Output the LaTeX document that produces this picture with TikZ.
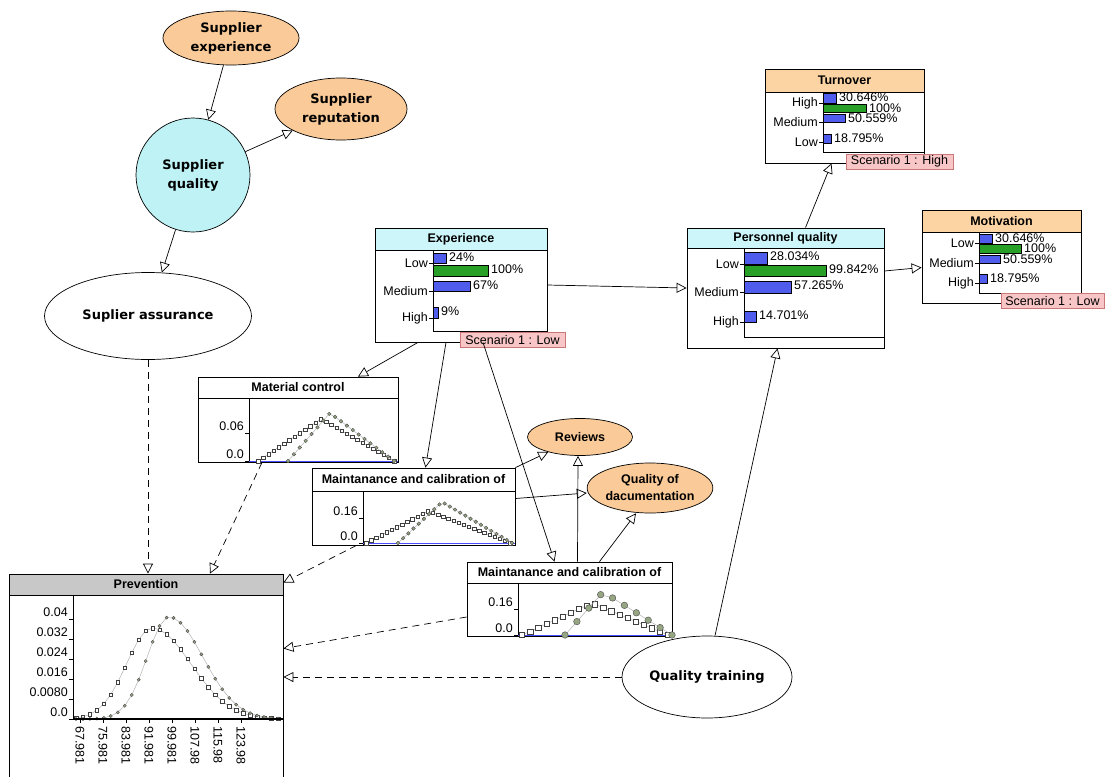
\documentclass[tikz,border=0pt]{standalone}
\usepackage{fontspec}
\setmainfont{Liberation Sans}
\newfontfamily\ovalfont{DejaVu Sans}
\usetikzlibrary{arrows.meta, shapes.geometric, plotmarks}

\definecolor{ovalorange}{RGB}{250,202,152}
\definecolor{titleorange}{RGB}{252,212,164}
\definecolor{qualcyan}{RGB}{190,242,245}
\definecolor{titlecyan}{RGB}{205,246,250}
\definecolor{titlegray}{RGB}{200,200,200}
\definecolor{barblue}{RGB}{80,92,235}
\definecolor{bargreen}{RGB}{40,160,40}
\definecolor{scenfill}{RGB}{248,198,198}
\definecolor{scenedge}{RGB}{205,120,120}
\definecolor{markgreen}{RGB}{150,165,130}

\tikzset{
  oval/.style={ellipse, draw, inner sep=0pt, align=center, line width=0.7pt,
    font=\ovalfont\bfseries\fontsize{13}{19}\selectfont},
  smalloval/.style={oval, fill=ovalorange, font=\bfseries\fontsize{12.5}{17}\selectfont},
  bnbox/.style={draw, fill=white, inner sep=0pt, line width=0.8pt},
  boxtitle/.style={font=\bfseries\fontsize{12.5}{15}\selectfont, inner sep=0pt},
  stxt/.style={font=\fontsize{12.5}{15}\selectfont, inner sep=1pt},
  scen/.style={draw=scenedge, fill=scenfill, font=\fontsize{12.5}{15}\selectfont,
    inner sep=0pt, minimum height=15pt},
  link/.style={-{Triangle[open,length=10pt,width=10pt]}, line width=0.7pt},
  dlink/.style={link, dash pattern=on 7pt off 5pt},
  sqcurve/.style={draw=gray!70, mark=square*, mark size=1.7pt,
    mark options={solid, draw=black!75, fill=white}},
  cicurve/.style={draw=gray!70, mark=*, mark size=1.8pt,
    mark options={solid, draw=black!70, fill=markgreen}}
}

% name, axis x, y, text
\newcommand{\statelab}[4]{%
  \draw (#2-4,#3) -- (#2,#3);
  \node[stxt, anchor=east] (#1) at (#2-4,#3) {#4};}
% name, x0, top, bottom, length, colour, text
\newcommand{\statebar}[7]{%
  \draw[fill=#6] (#2,#3) rectangle ({#2+#5},#4);
  \node[stxt, anchor=west] (#1) at ({#2+#5+2},{#3+4}) {#7};}
% name, axis x, y, text
\newcommand{\charttick}[4]{%
  \draw (#2-4,#3) -- (#2,#3);
  \node[stxt, anchor=east] (#1) at (#2-4,#3-7) {#4};}
% style, a, c, b, base, height, samples
\newcommand{\tricurve}[7]{%
  \draw[#1] plot[domain=#2:#4, samples=#7]
    (\x, {#5-#6*max(0,1-abs(\x-#3)/((\x<#3)?(#3-#2):(#4-#3)))});}
% style, c, left width, right width, base, height, samples
\newcommand{\skewcurve}[7]{%
  \draw[#1] plot[domain=76:278, samples=#7]
    (\x, {#5-#6*exp(-((\x-#2)/((\x<#2)?#3:#4))^2)});}

\begin{document}
\begin{tikzpicture}[x=1pt, y=-1pt]
  \fill[white] (0,0) rectangle (1105,776);
  \useasboundingbox (0,0) rectangle (1105,776);

  % Supplier nodes
  \node[oval, fill=ovalorange, minimum width=136pt, minimum height=54pt] (supexp) at (231,38) {Supplier\\experience};
  \node[oval, fill=ovalorange, minimum width=132pt, minimum height=62pt] (suprep) at (341,109) {Supplier\\reputation};
  \node[oval, circle, fill=qualcyan, minimum size=114pt] (supq) at (193,175) {Supplier\\quality};
  \node[oval, minimum width=207pt, minimum height=87pt] (supass) at (148,316) {Suplier assurance};

  % Other ovals
  \node[smalloval, minimum width=105pt, minimum height=37pt] (reviews) at (580,437) {Reviews};
  \node[smalloval, minimum width=114pt, minimum height=50pt] (qdoc) at (650,488) {Quality of\\dacumentation};
  \node[oval, minimum width=170pt, minimum height=82pt] (qtrain) at (707,677) {Quality training};

  % Experience
  \node[bnbox, minimum width=172pt, minimum height=114pt] (exp) at (461,285) {};
  \filldraw[fill=titlecyan] (375,228) rectangle (547,250);
  \node[boxtitle] (exp-title) at (461,239) {Experience};
  \draw (433,250) -- (433,331) -- (547,331);
  \statelab{exp-low}{433}{263}{Low}
  \statelab{exp-med}{433}{291}{Medium}
  \statelab{exp-high}{433}{318}{High}
  \statebar{exp-p1}{433}{253}{263}{13}{barblue}{24\%}
  \statebar{exp-p2}{433}{265}{276}{55}{bargreen}{100\%}
  \statebar{exp-p3}{433}{281}{291}{37}{barblue}{67\%}
  \statebar{exp-p4}{433}{307}{318}{5}{barblue}{9\%}
  \node[scen, minimum width=105pt] (exp-scen) at (512.5,340) {Scenario 1 : Low};

  % Personnel quality
  \node[bnbox, minimum width=197pt, minimum height=120pt] (pq) at (785.5,288) {};
  \filldraw[fill=titlecyan] (687,228) rectangle (884,248);
  \node[boxtitle] (pq-title) at (785.5,238) {Personnel quality};
  \draw (744,248) -- (744,337) -- (884,337);
  \statelab{pq-low}{744}{264}{Low}
  \statelab{pq-med}{744}{292}{Medium}
  \statelab{pq-high}{744}{322}{High}
  \statebar{pq-p1}{744}{252}{264}{23}{barblue}{28.034\%}
  \statebar{pq-p2}{744}{265}{276}{82}{bargreen}{99.842\%}
  \statebar{pq-p3}{744}{281}{293}{47}{barblue}{57.265\%}
  \statebar{pq-p4}{744}{311}{322}{12}{barblue}{14.701\%}

  % Turnover
  \node[bnbox, minimum width=159pt, minimum height=94pt] (turn) at (844.5,116) {};
  \filldraw[fill=titleorange] (765,69) rectangle (924,92);
  \node[boxtitle] (turn-title) at (844.5,80.5) {Turnover};
  \draw (823,92) -- (823,152) -- (924,152);
  \statelab{turn-high}{823}{103}{High}
  \statelab{turn-med}{823}{122}{Medium}
  \statelab{turn-low}{823}{142}{Low}
  \statebar{turn-p1}{823}{93}{103}{13}{barblue}{30.646\%}
  \statebar{turn-p2}{823}{104}{112}{43}{bargreen}{100\%}
  \statebar{turn-p3}{823}{114}{122}{22}{barblue}{50.559\%}
  \statebar{turn-p4}{823}{134}{143}{8}{barblue}{18.795\%}
  \node[scen, minimum width=107pt] (turn-scen) at (899.5,161.5) {Scenario 1 : High};

  % Motivation
  \node[bnbox, minimum width=159pt, minimum height=93pt] (mot) at (1001.5,256.5) {};
  \filldraw[fill=titleorange] (922,210) rectangle (1081,232);
  \node[boxtitle] (mot-title) at (1001.5,221) {Motivation};
  \draw (979,232) -- (979,293) -- (1081,293);
  \statelab{mot-low}{979}{243}{Low}
  \statelab{mot-med}{979}{263}{Medium}
  \statelab{mot-high}{979}{283}{High}
  \statebar{mot-p1}{979}{234}{243}{13}{barblue}{30.646\%}
  \statebar{mot-p2}{979}{244}{253}{42}{bargreen}{100\%}
  \statebar{mot-p3}{979}{255}{263}{21}{barblue}{50.559\%}
  \statebar{mot-p4}{979}{274}{283}{8}{barblue}{18.795\%}
  \node[scen, minimum width=103pt] (mot-scen) at (1052.5,301) {Scenario 1 : Low};

  % Material control
  \node[bnbox, minimum width=200pt, minimum height=85pt] (matc) at (298,419.5) {};
  \draw (198,398) -- (398,398);
  \node[boxtitle] (matc-title) at (298,387.5) {Material control};
  \draw (249,398) -- (249,462);
  \draw[blue!70] (249,461) -- (398,461);
  \charttick{matc-t1}{249}{433}{0.06}
  \charttick{matc-t0}{249}{461}{0.0}
  \tricurve{sqcurve}{258}{321}{394}{461}{42}{27}
  \tricurve{cicurve}{288}{330}{394}{461}{48}{19}

  % Maintanance and calibration, first
  \node[bnbox, minimum width=203pt, minimum height=77pt] (mc1) at (413.5,506.5) {};
  \draw (312,491) -- (515,491);
  \node[boxtitle] (mc1-title) at (413.5,479.5) {Maintanance and calibration of};
  \draw (363,491) -- (363,545);
  \draw[blue!70] (363,543) -- (515,543);
  \charttick{mc1-t1}{363}{518}{0.16}
  \charttick{mc1-t0}{363}{543}{0.0}
  \tricurve{sqcurve}{366}{428}{510}{543}{32}{29}
  \tricurve{cicurve}{398}{442}{512}{543}{41}{23}

  % Maintanance and calibration, second
  \node[bnbox, minimum width=205pt, minimum height=74pt] (mc2) at (569.5,599) {};
  \draw (467,583) -- (672,583);
  \node[boxtitle] (mc2-title) at (569.5,572.5) {Maintanance and calibration of};
  \draw (518,583) -- (518,636);
  \draw[blue!70] (518,635) -- (672,635);
  \charttick{mc2-t1}{518}{609}{0.16}
  \charttick{mc2-t0}{518}{635}{0.0}
  \tricurve{sqcurve, mark size=2.6pt}{522}{592}{668}{635}{32}{19}
  \tricurve{cicurve, mark size=3.3pt}{565}{603}{672}{635}{43}{10}

  % Prevention
  \node[bnbox, minimum width=274pt, minimum height=203pt] (prev) at (146,675.5) {};
  \filldraw[fill=titlegray] (9,574) rectangle (283,595);
  \node[boxtitle] (prev-title) at (146,584.5) {Prevention};
  \draw (73,595) -- (73,719);
  \foreach \v/\t [count=\i] in {0.04/619, 0.032/639, 0.024/659, 0.016/679, 0.0080/699, 0.0/719}
    {\charttick{prev-y\i}{73}{\t}{\v}}
  \foreach \v [count=\i] in {67.981, 75.981, 83.981, 91.981, 99.981, 107.98, 115.98, 123.98} {
    \draw (57+23*\i,719) -- (57+23*\i,723);
    \node[stxt, rotate=-90, anchor=west] (prev-x\i) at (57+23*\i,725) {\v};
  }
  \skewcurve{sqcurve}{152}{36}{55}{719}{91}{30}
  \skewcurve{cicurve, mark size=1.6pt}{169}{31}{48}{719}{102}{30}
  \draw[line width=1.5pt] (73,719) -- (283,719);

  % Links
  \draw[link] (supexp) -- (supq);
  \draw[link] (supq) -- (suprep);
  \draw[link] (supq) -- (supass);
  \draw[link] (exp.east) -- (pq.west);
  \draw[link] ([xshift=-43pt]exp.south) -- ([xshift=60pt]matc.north);
  \draw[link] ([xshift=-15pt]exp.south) -- ([xshift=12pt]mc1.north);
  \draw[link] ([xshift=22pt]exp.south) -- ([xshift=-15pt]mc2.north);
  \draw[link] ([xshift=20pt]pq.north) -- ([xshift=-13pt]turn.south);
  \draw[link] ([yshift=17pt]pq.east) -- ([yshift=-11pt]mot.west);
  \draw[link] ([xshift=8pt]qtrain.north) -- ([xshift=-8pt]pq.south);
  \draw[link] (mc1.north east) -- (reviews);
  \draw[link] ([yshift=8pt]mc1.east) -- ([yshift=-5pt]qdoc.west);
  \draw[link] ([xshift=8pt]mc2.north) -- ([xshift=-2pt]reviews.south);
  \draw[link] ([xshift=30pt]mc2.north) -- ([xshift=-14pt]qdoc.south);

  % Dashed links into Prevention
  \draw[dlink] (supass.south) -- (supass.south |- prev.north);
  \draw[dlink] ([xshift=-36pt]matc.south) -- ([xshift=64pt]prev.north);
  \draw[dlink] ([xshift=-57pt]mc1.south) -- ([yshift=-9pt]prev.north east);
  \draw[dlink] ([yshift=-18pt]mc2.west) -- ([yshift=27pt]prev.east);
  \draw[dlink] (qtrain.west) -- (qtrain.west -| prev.east);
\end{tikzpicture}
\end{document}
